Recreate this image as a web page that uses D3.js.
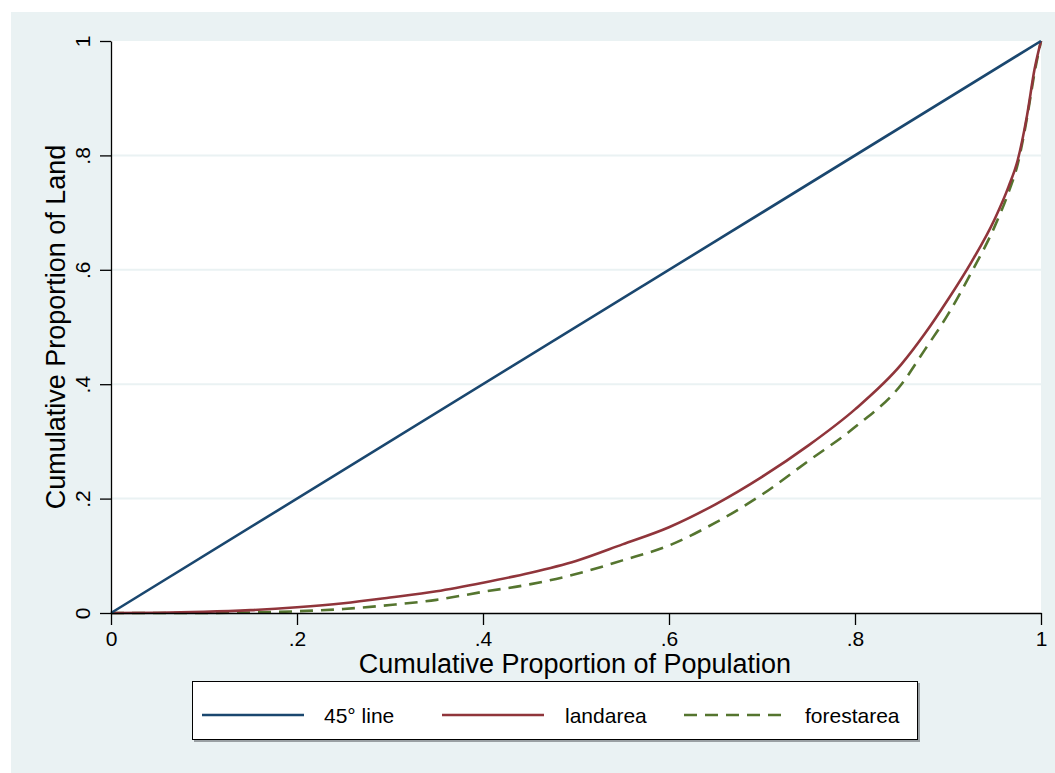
<!DOCTYPE html>
<html>
<head>
<meta charset="utf-8">
<script src="https://cdn.jsdelivr.net/npm/d3@7"></script>
<style>
  html, body { margin: 0; padding: 0; background: #ffffff; }
  svg { display: block; font-family: "Liberation Sans", Arial, sans-serif; }
</style>
</head>
<body>
<svg id="chart" width="1055" height="773"></svg>
<script>
// ---- Data ----
const popShare   = [0, 0.05, 0.10, 0.15, 0.20, 0.25, 0.30, 0.35, 0.40, 0.45, 0.50, 0.55, 0.60, 0.65, 0.70, 0.75, 0.80, 0.85, 0.875, 0.90, 0.925, 0.95, 0.965, 0.975, 0.985, 0.993, 1.0];
const landarea   = [0, 0.0005, 0.002, 0.005, 0.010, 0.017, 0.027, 0.038, 0.053, 0.070, 0.091, 0.120, 0.150, 0.190, 0.238, 0.293, 0.356, 0.435, 0.488, 0.548, 0.613, 0.688, 0.745, 0.792, 0.870, 0.950, 1.0];
const forestarea = [0, 0.0000, 0.000, 0.001, 0.003, 0.007, 0.014, 0.023, 0.037, 0.050, 0.068, 0.092, 0.118, 0.158, 0.207, 0.266, 0.325, 0.400, 0.460, 0.522, 0.595, 0.675, 0.735, 0.785, 0.866, 0.944, 1.0];
const diagX      = [0, 1];
const diagY      = [0, 1];
const xTicks     = [0, 0.2, 0.4, 0.6, 0.8, 1];
const yTicks     = [0, 0.2, 0.4, 0.6, 0.8, 1];
const gridTicks  = [0.2, 0.4, 0.6, 0.8];
const seriesNames = ["45° line", "landarea", "forestarea"];
const xTitle = "Cumulative Proportion of Population";
const yTitle = "Cumulative Proportion of Land";

const fmt = v => v === 0 ? "0" : v === 1 ? "1" : String(v).replace(/^0/, "");

// ---- Layout ----
const svg = d3.select("#chart");
const W = 1055, H = 773;
const plot = { left: 111, right: 1041, top: 41, bottom: 613 };
const colors = { navy: "#1a476f", maroon: "#90353b", green: "#55752f", bg: "#eaf2f3" };

svg.append("rect").attr("x", 0).attr("y", 0).attr("width", W).attr("height", H).attr("fill", "#ffffff");
svg.append("rect").attr("x", 11).attr("y", 12).attr("width", W - 11).attr("height", H - 12).attr("fill", colors.bg);

const x = d3.scaleLinear().domain([0, 1]).range([plot.left, plot.right]);
const y = d3.scaleLinear().domain([0, 1]).range([plot.bottom, plot.top]);

// plot region
svg.append("rect")
  .attr("x", x(0)).attr("y", y(1))
  .attr("width", x(1) - x(0)).attr("height", y(0) - y(1))
  .attr("fill", "#ffffff");

// gridlines
svg.append("g").selectAll("line").data(gridTicks).join("line")
  .attr("x1", x(0)).attr("x2", x(1))
  .attr("y1", d => y(d)).attr("y2", d => y(d))
  .attr("stroke", colors.bg).attr("stroke-width", 2);

// series
const diag = diagX.map((d, i) => [d, diagY[i]]);
const land = popShare.map((d, i) => [d, landarea[i]]);
const forest = popShare.map((d, i) => [d, forestarea[i]]);

const lineGen = d3.line().x(d => x(d[0])).y(d => y(d[1])).curve(d3.curveMonotoneX);

svg.append("path").datum(forest).attr("d", lineGen)
  .attr("fill", "none").attr("stroke", colors.green).attr("stroke-width", 2.6)
  .attr("stroke-dasharray", "13,8");
svg.append("path").datum(land).attr("d", lineGen)
  .attr("fill", "none").attr("stroke", colors.maroon).attr("stroke-width", 2.6);
svg.append("path").datum(diag).attr("d", d3.line().x(d => x(d[0])).y(d => y(d[1])))
  .attr("fill", "none").attr("stroke", colors.navy).attr("stroke-width", 2.6);

// axes
const xAxis = d3.axisBottom(x).tickValues(xTicks).tickFormat(fmt).tickSize(12).tickPadding(6).tickSizeOuter(0);
const gx = svg.append("g").attr("transform", `translate(0,${plot.bottom})`).call(xAxis);
gx.select(".domain").attr("stroke", "#000").attr("stroke-width", 1.3);
gx.selectAll(".tick line").attr("stroke", "#000").attr("stroke-width", 1.3);
gx.selectAll(".tick text").attr("font-size", 21).attr("fill", "#000")
  .attr("font-family", "Liberation Sans, Arial, sans-serif");

const yAxis = d3.axisLeft(y).tickValues(yTicks).tickFormat(fmt).tickSize(11).tickPadding(0).tickSizeOuter(0);
const gy = svg.append("g").attr("transform", `translate(${plot.left},0)`).call(yAxis);
gy.select(".domain").attr("stroke", "#000").attr("stroke-width", 1.3);
gy.selectAll(".tick line").attr("stroke", "#000").attr("stroke-width", 1.3);
gy.selectAll(".tick text")
  .attr("font-size", 21).attr("fill", "#000")
  .attr("font-family", "Liberation Sans, Arial, sans-serif")
  .attr("x", null).attr("dy", null)
  .attr("text-anchor", "middle")
  .attr("transform", "translate(-21,0) rotate(-90)");

// axis titles
svg.append("text")
  .attr("x", (x(0) + x(1)) / 2 - 1).attr("y", 673)
  .attr("text-anchor", "middle").attr("font-size", 27).attr("fill", "#000")
  .text(xTitle);
svg.append("text")
  .attr("transform", `translate(65,${(y(0) + y(1)) / 2}) rotate(-90)`)
  .attr("text-anchor", "middle").attr("font-size", 27).attr("fill", "#000")
  .text(yTitle);

// legend
const lg = svg.append("g");
lg.append("rect").attr("x", 194).attr("y", 683).attr("width", 726).attr("height", 59).attr("fill", "#9aa0a3");
lg.append("rect").attr("x", 192.5).attr("y", 681.5).attr("width", 725).attr("height", 58)
  .attr("fill", "#ffffff").attr("stroke", "#000").attr("stroke-width", 1);

const legendItems = [
  { name: seriesNames[0], color: colors.navy, dash: null, x0: 202, tx: 324 },
  { name: seriesNames[1], color: colors.maroon, dash: null, x0: 442, tx: 565 },
  { name: seriesNames[2], color: colors.green, dash: "13,8", x0: 684, tx: 805 }
];
const items = lg.selectAll("g.item").data(legendItems).join("g").attr("class", "item");
items.append("line")
  .attr("x1", d => d.x0).attr("x2", d => d.x0 + 102)
  .attr("y1", 715).attr("y2", 715)
  .attr("stroke", d => d.color).attr("stroke-width", 2.6)
  .attr("stroke-dasharray", d => d.dash);
items.append("text")
  .attr("x", d => d.tx).attr("y", 722.5)
  .attr("font-size", 21).attr("fill", "#000")
  .text(d => d.name);
</script>
</body>
</html>
